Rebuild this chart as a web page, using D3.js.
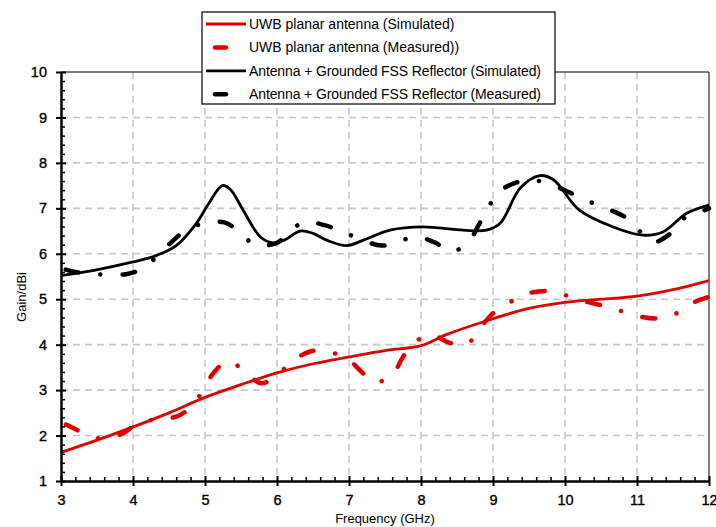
<!DOCTYPE html>
<html>
<head>
<meta charset="utf-8">
<script src="https://cdn.jsdelivr.net/npm/d3@7"></script>
<style>
  body { margin: 0; background: #fff; }
  svg { display: block; font-family: "Liberation Sans", Arial, sans-serif; }
</style>
</head>
<body>
<svg id="chart" width="716" height="527"></svg>
<script>
// frequency (GHz) / gain (dBi)
const redSimF = [3.0, 3.5, 3.9, 4.5, 5.0, 5.5, 6.0, 6.5, 7.0, 7.5, 8.0, 8.35, 9.0, 9.5, 10.0, 10.5, 11.0, 11.5, 12.0];
const redSimG = [1.63, 1.9, 2.13, 2.5, 2.84, 3.12, 3.38, 3.58, 3.73, 3.87, 3.98, 4.22, 4.57, 4.8, 4.93, 5.0, 5.07, 5.21, 5.41];

const redMeasF = [3.0, 3.07, 3.32, 3.57, 3.85, 4.06, 4.32, 4.61, 4.81, 4.97, 5.12, 5.32, 5.56, 5.78, 6.01, 6.2, 6.46, 6.68, 6.97, 7.17, 7.35, 7.6, 7.75, 7.89, 8.13, 8.4, 8.63, 8.82, 9.02, 9.23, 9.47, 9.76, 10.0, 10.26, 10.55, 10.76, 11.04, 11.32, 11.55, 11.8, 12.0];
const redMeasG = [2.27, 2.24, 2.05, 1.93, 2.04, 2.26, 2.36, 2.42, 2.64, 2.99, 3.38, 3.64, 3.4, 3.15, 3.34, 3.62, 3.85, 3.85, 3.7, 3.41, 3.17, 3.34, 3.73, 4.02, 4.22, 4.04, 4.0, 4.37, 4.72, 4.93, 5.12, 5.18, 5.09, 4.96, 4.85, 4.75, 4.62, 4.58, 4.69, 4.94, 5.05];

const blackSimF = [3.0, 3.44, 4.0, 4.32, 4.6, 4.88, 5.05, 5.24, 5.35, 5.53, 5.77, 5.95, 6.1, 6.32, 6.5, 6.69, 6.97, 7.2, 7.57, 8.02, 8.58, 8.91, 9.1, 9.38, 9.65, 9.84, 10.2, 10.67, 11.08, 11.36, 11.69, 12.0];
const blackSimG = [5.52, 5.63, 5.82, 5.96, 6.18, 6.67, 7.1, 7.5, 7.42, 6.96, 6.37, 6.24, 6.3, 6.5, 6.45, 6.3, 6.18, 6.3, 6.52, 6.59, 6.52, 6.52, 6.67, 7.45, 7.72, 7.63, 6.96, 6.59, 6.41, 6.48, 6.89, 7.07];

const blackMeasF = [3.0, 3.2, 3.5, 3.9, 4.1, 4.32, 4.55, 4.72, 4.98, 5.27, 5.48, 5.69, 6.0, 6.15, 6.38, 6.66, 6.89, 7.14, 7.45, 7.65, 7.93, 8.19, 8.42, 8.65, 8.8, 8.93, 9.07, 9.33, 9.56, 9.81, 10.09, 10.32, 10.57, 10.83, 11.02, 11.23, 11.46, 11.65, 11.88, 12.0];
const blackMeasG = [5.68, 5.6, 5.55, 5.55, 5.65, 5.92, 6.28, 6.5, 6.67, 6.69, 6.48, 6.2, 6.24, 6.45, 6.7, 6.63, 6.5, 6.33, 6.18, 6.25, 6.37, 6.25, 6.05, 6.24, 6.63, 7.0, 7.35, 7.57, 7.62, 7.52, 7.33, 7.16, 7.0, 6.81, 6.52, 6.26, 6.44, 6.78, 6.92, 7.0];

const xTicks = d3.range(3, 13, 1);
const yTicks = d3.range(1, 11, 1);
const legendLabels = [
  "UWB planar antenna (Simulated)",
  "UWB planar antenna (Measured))",
  "Antenna + Grounded FSS Reflector (Simulated)",
  "Antenna + Grounded FSS Reflector (Measured)"
];

const svg = d3.select("#chart");
const width = +svg.attr("width");
const height = +svg.attr("height");
const margin = { top: 72, left: 61, right: 7, bottom: 46 };
const innerWidth = width - margin.left - margin.right;
const innerHeight = height - margin.top - margin.bottom;

const red = "#e00000";

const xScale = d3.scaleLinear().domain([3, 12]).range([0, innerWidth]);
const yScale = d3.scaleLinear().domain([1, 10]).range([innerHeight, 0]);

const g = svg.append("g").attr("transform", `translate(${margin.left},${margin.top})`);

// grid
g.append("g").selectAll("line")
  .data(yTicks.slice(1, -1))
  .join("line")
  .attr("x1", 0).attr("x2", innerWidth)
  .attr("y1", d => yScale(d)).attr("y2", d => yScale(d))
  .attr("stroke", "#c8c8c8").attr("stroke-width", 1.6).attr("stroke-dasharray", "7,5");
g.append("g").selectAll("line")
  .data(xTicks.slice(1, -1))
  .join("line")
  .attr("y1", 0).attr("y2", innerHeight)
  .attr("x1", d => xScale(d)).attr("x2", d => xScale(d))
  .attr("stroke", "#c8c8c8").attr("stroke-width", 1.6).attr("stroke-dasharray", "7,5");

// frame top / right
g.append("line").attr("x1", 0).attr("x2", innerWidth).attr("y1", 0).attr("y2", 0).attr("stroke", "#000");
g.append("line").attr("x1", innerWidth).attr("x2", innerWidth).attr("y1", 0).attr("y2", innerHeight).attr("stroke", "#000");

// curves
const lineGen = d3.line()
  .x(d => xScale(d[0]))
  .y(d => yScale(d[1]))
  .curve(d3.curveCatmullRom.alpha(0.5));

const zip = (a, b) => a.map((v, i) => [v, b[i]]);

const series = [
  { pts: zip(redMeasF, redMeasG), color: red, dashed: true },
  { pts: zip(blackMeasF, blackMeasG), color: "#000", dashed: true },
  { pts: zip(redSimF, redSimG), color: red, dashed: false },
  { pts: zip(blackSimF, blackSimG), color: "#000", dashed: false }
];

series.forEach(s => {
  const p = g.append("path")
    .attr("d", lineGen(s.pts))
    .attr("fill", "none")
    .attr("stroke", s.color);
  if (s.dashed) {
    p.attr("stroke-width", 4.5)
      .attr("stroke-linecap", "round")
      .attr("stroke-dasharray", "13,22,0.1,22")
      .attr("stroke-dashoffset", -5);
  } else {
    p.attr("stroke-width", 2.8);
  }
});

// axes
const fontSize = 14.5;
const styleLabels = sel => sel
  .attr("font-size", fontSize)
  .attr("font-family", "Liberation Sans, Arial")
  .attr("fill", "#000")
  .attr("stroke", "#000")
  .attr("stroke-width", 0.35);

const xAxisG = g.append("g")
  .attr("transform", `translate(0,${innerHeight})`)
  .call(d3.axisBottom(xScale).tickValues(xTicks).tickSize(5).tickSizeOuter(0).tickPadding(9));
xAxisG.selectAll(".tick line").attr("y1", -5).attr("stroke-width", 2);
xAxisG.select(".domain").attr("stroke-width", 2.5);
xAxisG.selectAll(".tick text").call(styleLabels);

const xMinor = d3.range(3, 12.01, 0.2).filter(v => Math.abs(v - Math.round(v)) > 0.01);
g.append("g")
  .attr("transform", `translate(0,${innerHeight})`)
  .call(d3.axisBottom(xScale).tickValues(xMinor).tickSize(-4).tickSizeOuter(0).tickFormat(""))
  .call(a => a.select(".domain").remove())
  .selectAll(".tick line").attr("stroke-width", 1.5);

const yAxisG = g.append("g")
  .call(d3.axisLeft(yScale).tickValues(yTicks).tickSize(5).tickSizeOuter(0).tickPadding(9));
yAxisG.selectAll(".tick line").attr("x1", 5).attr("stroke-width", 2);
yAxisG.select(".domain").attr("stroke-width", 2.5);
yAxisG.selectAll(".tick text").call(styleLabels);

const yMinor = d3.range(1, 10.01, 0.2).filter(v => Math.abs(v - Math.round(v)) > 0.01);
g.append("g")
  .call(d3.axisLeft(yScale).tickValues(yMinor).tickSize(-4).tickSizeOuter(0).tickFormat(""))
  .call(a => a.select(".domain").remove())
  .selectAll(".tick line").attr("stroke-width", 1.5);

// axis titles
g.append("text")
  .text("Frequency (GHz)")
  .attr("x", innerWidth / 2)
  .attr("y", innerHeight + 42)
  .attr("text-anchor", "middle")
  .attr("font-size", 13);

g.append("text")
  .text("Gain/dBi")
  .attr("transform", `translate(${-35},${yScale(5.05)}) rotate(-90)`)
  .attr("text-anchor", "middle")
  .attr("font-size", 13);

// legend
const legend = svg.append("g").attr("transform", "translate(202,12)");
legend.append("rect")
  .attr("width", 353).attr("height", 92)
  .attr("fill", "#fff").attr("stroke", "#000").attr("stroke-width", 1.2);

const legendItems = [
  { color: red, dashed: false },
  { color: red, dashed: true },
  { color: "#000", dashed: false },
  { color: "#000", dashed: true }
];
legendItems.forEach((d, i) => {
  const y = 12 + i * 23.4;
  if (d.dashed) {
    legend.append("line")
      .attr("x1", 13).attr("x2", 24).attr("y1", y).attr("y2", y)
      .attr("stroke", d.color).attr("stroke-width", 4.5).attr("stroke-linecap", "round");
  } else {
    legend.append("line")
      .attr("x1", 4).attr("x2", 44).attr("y1", y).attr("y2", y)
      .attr("stroke", d.color).attr("stroke-width", 2.8);
  }
  legend.append("text")
    .text(legendLabels[i])
    .attr("x", 47).attr("y", y)
    .attr("dy", "0.35em")
    .attr("font-size", 14)
    .attr("textLength", i < 2 ? null : 292);
});
</script>
</body>
</html>
